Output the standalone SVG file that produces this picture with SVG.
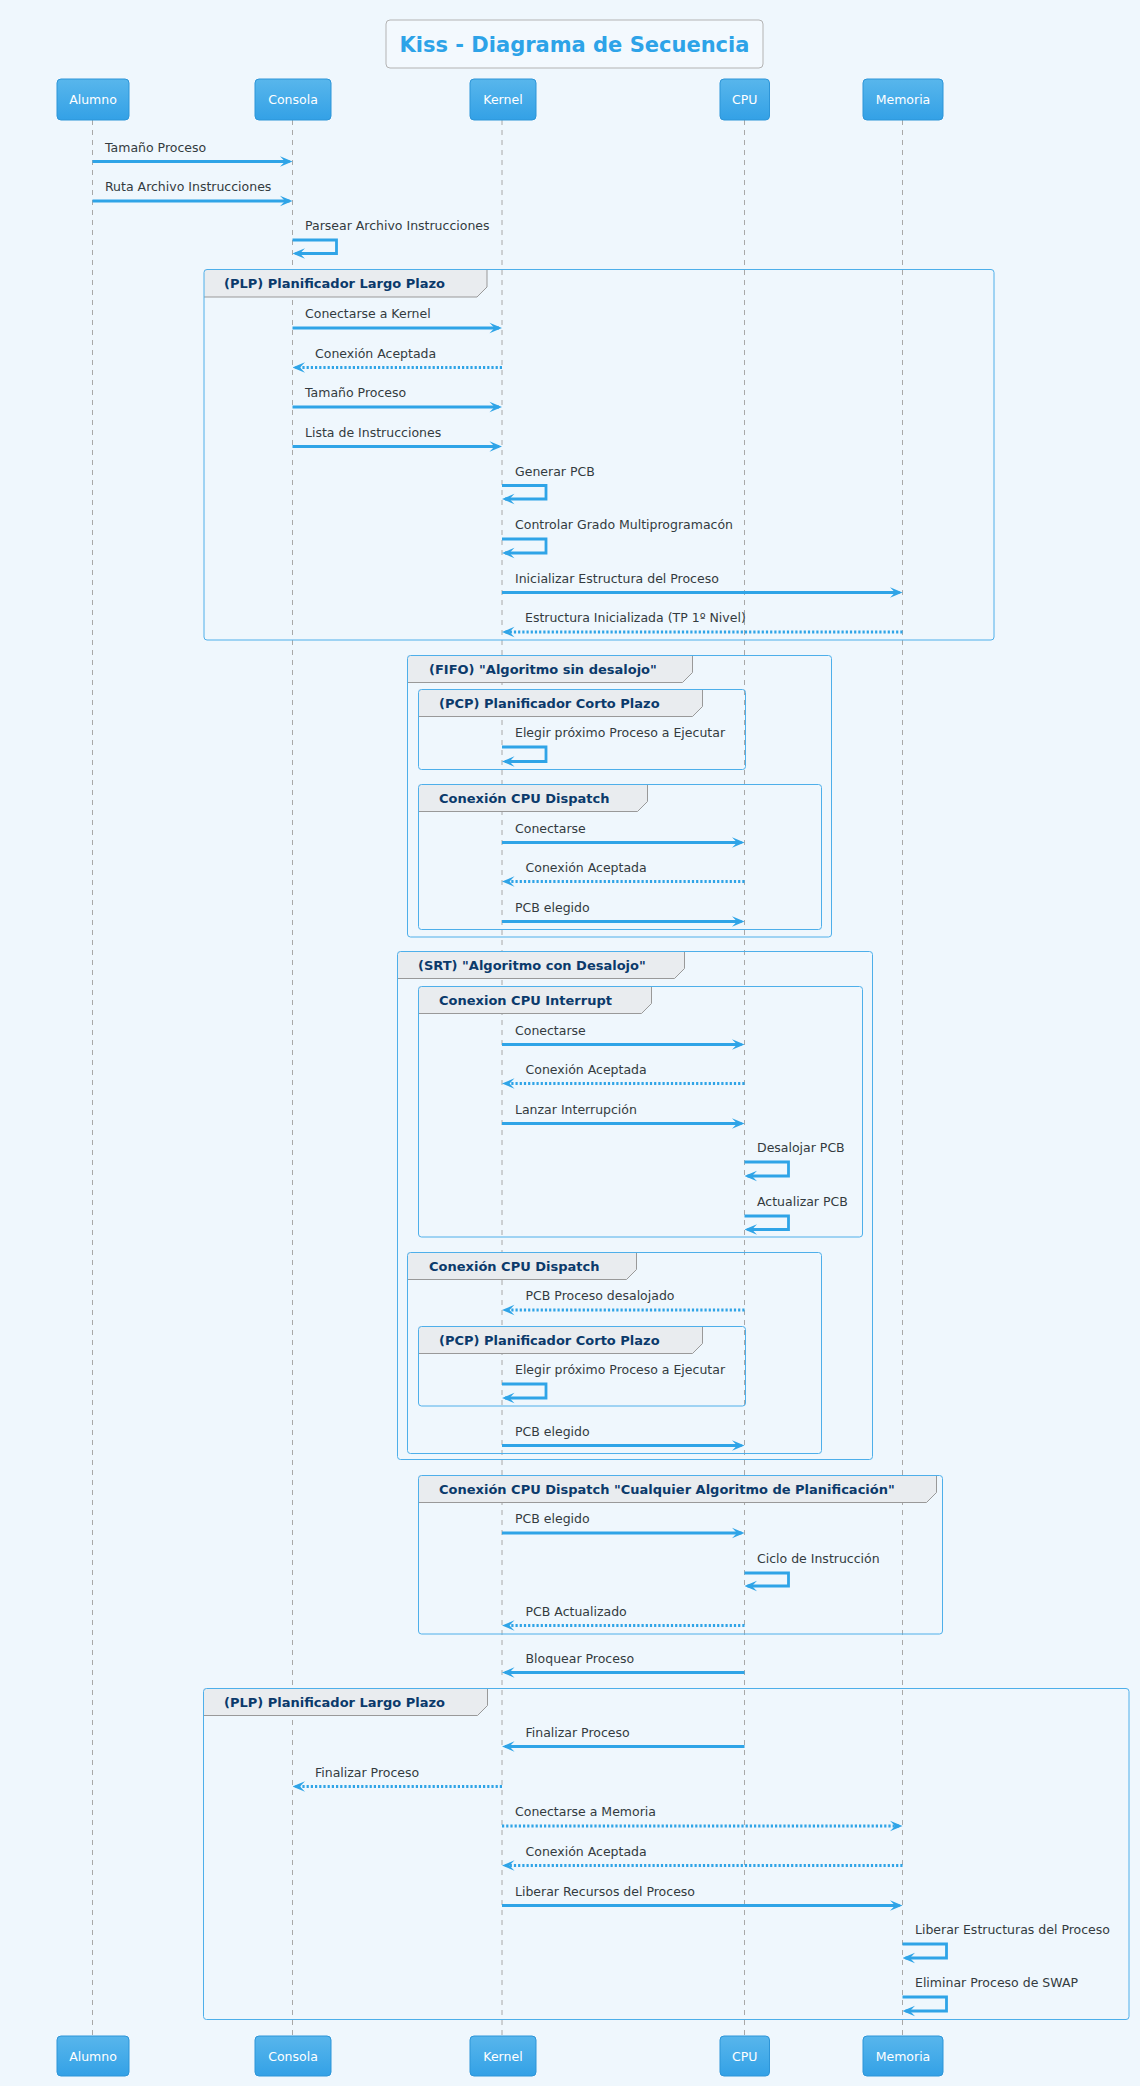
<svg xmlns="http://www.w3.org/2000/svg" width="1140" height="2086" viewBox="0 0 1140 2086">
<defs>
<style>
.bg{fill:#EFF7FD}
.pbox{fill:url(#pg);stroke:#2D95D8;stroke-width:1}
.ptxt{font-family:"DejaVu Sans",sans-serif;font-size:12.5px;fill:#FFFFFF;text-anchor:middle}
.life{stroke:#A8A8A8;stroke-width:1;stroke-dasharray:5,5}
.m{stroke:#2FA4E7;stroke-width:2.8;fill:none;marker-end:url(#ah)}
.d{stroke-dasharray:2.2,2}
.lbl{font-family:"DejaVu Sans",sans-serif;font-size:12.5px;fill:#333B40}
.grp{fill:none;stroke:#4EAFEA;stroke-width:1}
.tab{fill:#E9ECEF}
.tabl{fill:none;stroke:#999999;stroke-width:1}
.glbl{font-family:"DejaVu Sans",sans-serif;font-size:13px;font-weight:bold;fill:#0B3A6B}
.title{font-family:"DejaVu Sans",sans-serif;font-size:21px;font-weight:bold;fill:#2DA3E8;text-anchor:middle}
</style>
<linearGradient id="pg" x1="0" y1="0" x2="0" y2="1">
<stop offset="0" stop-color="#58B6EC"/>
<stop offset="1" stop-color="#33A1E6"/>
</linearGradient>
<marker id="ah" viewBox="0 0 14 12" refX="11" refY="6" markerWidth="14" markerHeight="12" markerUnits="userSpaceOnUse" orient="auto">
<path d="M1.5,0.8 L14,6 L1.5,11.2 L6.5,6 Z" fill="#2FA4E7"/>
</marker>
</defs>
<rect class="bg" x="0" y="0" width="1140" height="2086"/>

<g id="title">
<rect x="386" y="20" width="377" height="48" rx="4" fill="#F3F9FE" stroke="#B3B3B3" stroke-width="1"/>
<text class="title" x="574.5" y="52">Kiss - Diagrama de Secuencia</text>
</g>

<g id="lifelines">
<line class="life" x1="92.5" y1="120" x2="92.5" y2="2036"/>
<line class="life" x1="292.5" y1="120" x2="292.5" y2="2036"/>
<line class="life" x1="502" y1="120" x2="502" y2="2036"/>
<line class="life" x1="744.5" y1="120" x2="744.5" y2="2036"/>
<line class="life" x1="902.5" y1="120" x2="902.5" y2="2036"/>
</g>

<g id="groups">
<g id="g-plp1">
<path class="tab" d="M204,269.5 H487 V287 L477,297 H204 Z"/>
<path class="tabl" d="M487,269.5 V287 L477,297 H204"/>
<rect class="grp" x="204" y="269.5" width="790" height="370.5" rx="3"/>
<text class="glbl" x="224" y="288">(PLP) Planificador Largo Plazo</text>
</g>
<g id="g-fifo">
<path class="tab" d="M407.5,655.5 H692.5 V672.5 L682.5,682.5 H407.5 Z"/>
<path class="tabl" d="M692.5,655.5 V672.5 L682.5,682.5 H407.5"/>
<rect class="grp" x="407.5" y="655.5" width="424" height="281.5" rx="3"/>
<text class="glbl" x="429" y="674">(FIFO) "Algoritmo sin desalojo"</text>
</g>
<g id="g-pcp1">
<path class="tab" d="M418.5,689.5 H702.5 V706.5 L692.5,716.5 H418.5 Z"/>
<path class="tabl" d="M702.5,689.5 V706.5 L692.5,716.5 H418.5"/>
<rect class="grp" x="418.5" y="689.5" width="327" height="80" rx="3"/>
<text class="glbl" x="439" y="708">(PCP) Planificador Corto Plazo</text>
</g>
<g id="g-disp1">
<path class="tab" d="M418.5,784.5 H647.5 V801.5 L637.5,811.5 H418.5 Z"/>
<path class="tabl" d="M647.5,784.5 V801.5 L637.5,811.5 H418.5"/>
<rect class="grp" x="418.5" y="784.5" width="403" height="145" rx="3"/>
<text class="glbl" x="439" y="803">Conexión CPU Dispatch</text>
</g>
<g id="g-srt">
<path class="tab" d="M397.5,951.5 H684.5 V968.5 L674.5,978.5 H397.5 Z"/>
<path class="tabl" d="M684.5,951.5 V968.5 L674.5,978.5 H397.5"/>
<rect class="grp" x="397.5" y="951.5" width="475" height="508" rx="3"/>
<text class="glbl" x="418" y="970">(SRT) "Algoritmo con Desalojo"</text>
</g>
<g id="g-int">
<path class="tab" d="M418.5,986.5 H651.5 V1003.5 L641.5,1013.5 H418.5 Z"/>
<path class="tabl" d="M651.5,986.5 V1003.5 L641.5,1013.5 H418.5"/>
<rect class="grp" x="418.5" y="986.5" width="444" height="250.5" rx="3"/>
<text class="glbl" x="439" y="1005">Conexion CPU Interrupt</text>
</g>
<g id="g-disp2">
<path class="tab" d="M407.5,1252.5 H636.5 V1269.5 L626.5,1279.5 H407.5 Z"/>
<path class="tabl" d="M636.5,1252.5 V1269.5 L626.5,1279.5 H407.5"/>
<rect class="grp" x="407.5" y="1252.5" width="414" height="201" rx="3"/>
<text class="glbl" x="429" y="1271">Conexión CPU Dispatch</text>
</g>
<g id="g-pcp2">
<path class="tab" d="M418.5,1326.5 H702.5 V1343.5 L692.5,1353.5 H418.5 Z"/>
<path class="tabl" d="M702.5,1326.5 V1343.5 L692.5,1353.5 H418.5"/>
<rect class="grp" x="418.5" y="1326.5" width="327" height="79.5" rx="3"/>
<text class="glbl" x="439" y="1345">(PCP) Planificador Corto Plazo</text>
</g>
<g id="g-any">
<path class="tab" d="M418.5,1475.5 H936.5 V1492.5 L926.5,1502.5 H418.5 Z"/>
<path class="tabl" d="M936.5,1475.5 V1492.5 L926.5,1502.5 H418.5"/>
<rect class="grp" x="418.5" y="1475.5" width="524" height="158.5" rx="3"/>
<text class="glbl" x="439" y="1494">Conexión CPU Dispatch "Cualquier Algoritmo de Planificación"</text>
</g>
<g id="g-plp2">
<path class="tab" d="M203.5,1688.5 H487.5 V1705.5 L477.5,1715.5 H203.5 Z"/>
<path class="tabl" d="M487.5,1688.5 V1705.5 L477.5,1715.5 H203.5"/>
<rect class="grp" x="203.5" y="1688.5" width="925.5" height="331" rx="3"/>
<text class="glbl" x="224" y="1707">(PLP) Planificador Largo Plazo</text>
</g>
</g>

<g id="participants">
<g id="p-alumno"><rect class="pbox" x="57" y="79" width="72" height="41" rx="4"/><text class="ptxt" x="93" y="104">Alumno</text></g>
<g id="p-consola"><rect class="pbox" x="255" y="79" width="76" height="41" rx="4"/><text class="ptxt" x="293" y="104">Consola</text></g>
<g id="p-kernel"><rect class="pbox" x="470" y="79" width="66" height="41" rx="4"/><text class="ptxt" x="503" y="104">Kernel</text></g>
<g id="p-cpu"><rect class="pbox" x="720" y="79" width="49.5" height="41" rx="4"/><text class="ptxt" x="744.75" y="104">CPU</text></g>
<g id="p-memoria"><rect class="pbox" x="863" y="79" width="80" height="41" rx="4"/><text class="ptxt" x="903" y="104">Memoria</text></g>
<g id="p-alumno-b"><rect class="pbox" x="57" y="2036" width="72" height="40" rx="4"/><text class="ptxt" x="93" y="2060.5">Alumno</text></g>
<g id="p-consola-b"><rect class="pbox" x="255" y="2036" width="76" height="40" rx="4"/><text class="ptxt" x="293" y="2060.5">Consola</text></g>
<g id="p-kernel-b"><rect class="pbox" x="470" y="2036" width="66" height="40" rx="4"/><text class="ptxt" x="503" y="2060.5">Kernel</text></g>
<g id="p-cpu-b"><rect class="pbox" x="720" y="2036" width="49.5" height="40" rx="4"/><text class="ptxt" x="744.75" y="2060.5">CPU</text></g>
<g id="p-memoria-b"><rect class="pbox" x="863" y="2036" width="80" height="40" rx="4"/><text class="ptxt" x="903" y="2060.5">Memoria</text></g>
</g>

<g id="connectors">
<path class="m" d="M92.5,161.5 H289.5"/>
<path class="m" d="M92.5,201 H289.5"/>
<path class="m" d="M292.5,240 H336.5 V253.5 H295.5"/>
<path class="m" d="M292.5,328 H499"/>
<path class="m d" d="M502,367.5 H295.5"/>
<path class="m" d="M292.5,407 H499"/>
<path class="m" d="M292.5,446.5 H499"/>
<path class="m" d="M502,485.5 H546 V499 H505"/>
<path class="m" d="M502,539 H546 V553 H505"/>
<path class="m" d="M502,592.5 H899.5"/>
<path class="m d" d="M902.5,632 H505"/>
<path class="m" d="M502,747 H546 V761.5 H505"/>
<path class="m" d="M502,842.5 H741.5"/>
<path class="m d" d="M744.5,881.5 H505"/>
<path class="m" d="M502,921.5 H741.5"/>
<path class="m" d="M502,1044.5 H741.5"/>
<path class="m d" d="M744.5,1083.5 H505"/>
<path class="m" d="M502,1123.5 H741.5"/>
<path class="m" d="M744.5,1162 H788.5 V1176 H747.5"/>
<path class="m" d="M744.5,1216 H788.5 V1229.5 H747.5"/>
<path class="m d" d="M744.5,1310 H505"/>
<path class="m" d="M502,1384 H546 V1398 H505"/>
<path class="m" d="M502,1445.5 H741.5"/>
<path class="m" d="M502,1533 H741.5"/>
<path class="m" d="M744.5,1573 H788.5 V1586 H747.5"/>
<path class="m d" d="M744.5,1625.5 H505"/>
<path class="m" d="M744.5,1672.5 H505"/>
<path class="m" d="M744.5,1746.5 H505"/>
<path class="m d" d="M502,1786.5 H295.5"/>
<path class="m d" d="M502,1826 H899.5"/>
<path class="m d" d="M902.5,1865.5 H505"/>
<path class="m" d="M502,1905.5 H899.5"/>
<path class="m" d="M902.5,1944 H946.5 V1958 H905.5"/>
<path class="m" d="M902.5,1997 H946.5 V2011 H905.5"/>
</g>

<g id="labels">
<text class="lbl" x="105" y="151.5">Tamaño Proceso</text>
<text class="lbl" x="105" y="191">Ruta Archivo Instrucciones</text>
<text class="lbl" x="305" y="230">Parsear Archivo Instrucciones</text>
<text class="lbl" x="305" y="318">Conectarse a Kernel</text>
<text class="lbl" x="315" y="357.5">Conexión Aceptada</text>
<text class="lbl" x="305" y="397">Tamaño Proceso</text>
<text class="lbl" x="305" y="436.5">Lista de Instrucciones</text>
<text class="lbl" x="515" y="475.5">Generar PCB</text>
<text class="lbl" x="515" y="529">Controlar Grado Multiprogramacón</text>
<text class="lbl" x="515" y="582.5">Inicializar Estructura del Proceso</text>
<text class="lbl" x="525" y="622">Estructura Inicializada (TP 1º Nivel)</text>
<text class="lbl" x="515" y="737">Elegir próximo Proceso a Ejecutar</text>
<text class="lbl" x="515" y="832.5">Conectarse</text>
<text class="lbl" x="525.5" y="871.5">Conexión Aceptada</text>
<text class="lbl" x="515" y="911.5">PCB elegido</text>
<text class="lbl" x="515" y="1034.5">Conectarse</text>
<text class="lbl" x="525.5" y="1073.5">Conexión Aceptada</text>
<text class="lbl" x="515" y="1113.5">Lanzar Interrupción</text>
<text class="lbl" x="757" y="1152">Desalojar PCB</text>
<text class="lbl" x="757" y="1206">Actualizar PCB</text>
<text class="lbl" x="525.5" y="1300">PCB Proceso desalojado</text>
<text class="lbl" x="515" y="1374">Elegir próximo Proceso a Ejecutar</text>
<text class="lbl" x="515" y="1435.5">PCB elegido</text>
<text class="lbl" x="515" y="1523">PCB elegido</text>
<text class="lbl" x="757" y="1563">Ciclo de Instrucción</text>
<text class="lbl" x="525.5" y="1615.5">PCB Actualizado</text>
<text class="lbl" x="525.5" y="1662.5">Bloquear Proceso</text>
<text class="lbl" x="525.5" y="1736.5">Finalizar Proceso</text>
<text class="lbl" x="315" y="1776.5">Finalizar Proceso</text>
<text class="lbl" x="515" y="1816">Conectarse a Memoria</text>
<text class="lbl" x="525.5" y="1855.5">Conexión Aceptada</text>
<text class="lbl" x="515" y="1895.5">Liberar Recursos del Proceso</text>
<text class="lbl" x="915" y="1934">Liberar Estructuras del Proceso</text>
<text class="lbl" x="915" y="1987">Eliminar Proceso de SWAP</text>
</g>
</svg>
